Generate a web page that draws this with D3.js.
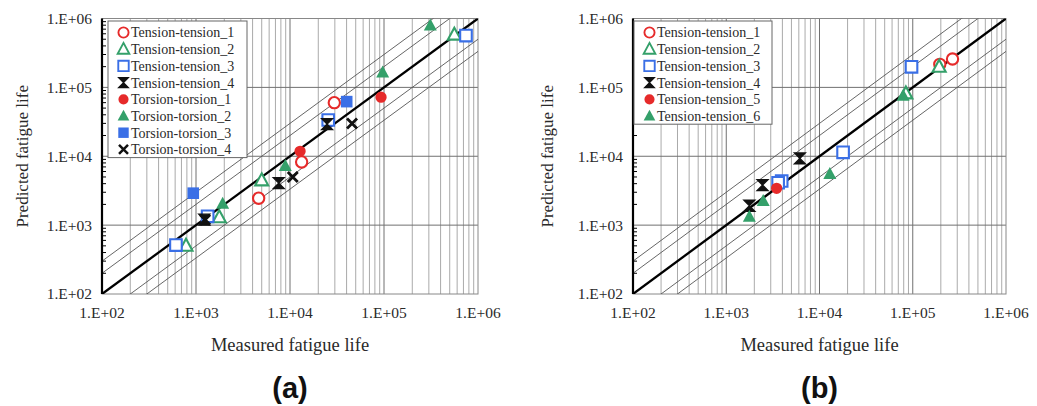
<!DOCTYPE html>
<html>
<head>
<meta charset="utf-8">
<script src="https://cdn.jsdelivr.net/npm/d3@7"></script>
<style>
  body { margin: 0; background: #fff; }
  svg text { font-family: "Liberation Serif", "Times New Roman", serif; fill: #2a2a2a; }
</style>
</head>
<body>
<div id="chart"></div>
<script>
// panel (a) series: [measured, predicted]
const namesA = ["Tension-tension_1", "Tension-tension_2", "Tension-tension_3", "Tension-tension_4",
                "Torsion-torsion_1", "Torsion-torsion_2", "Torsion-torsion_3", "Torsion-torsion_4"];
const aTT1 = [[29600, 60000], [13300, 8260], [4640, 2460]];
const aTT2 = [[783, 502], [1770, 1300], [5000, 4470], [560000, 583000]];
const aTT3 = [[612, 514], [1330, 1343], [25500, 33600], [745000, 565000]];
const aTT4 = [[1225, 1200], [7590, 4075], [24800, 29300]];
const aTo1 = [[12800, 11800], [93000, 72000]];
const aTo2 = [[1920, 2040], [8910, 7210], [96800, 164000], [311000, 790000]];
const aTo3 = [[935, 2910], [40100, 62100]];
const aTo4 = [[1250, 1200], [10700, 4990], [45700, 30000]];

// panel (b) series
const namesB = ["Tension-tension_1", "Tension-tension_2", "Tension-tension_3",
                "Tension-tension_4", "Tension-tension_5", "Tension-tension_6"];
const bTT1 = [[195000, 216000], [267000, 258000]];
const bTT2 = [[192000, 199000], [84400, 81800]];
const bTT3 = [[97000, 199000], [17900, 11400], [3930, 4370], [3600, 4120]];
const bTT4 = [[1770, 1910], [2450, 3820], [6160, 9310]];
const bTT5 = [[3470, 3420]];
const bTT6 = [[1770, 1325], [2490, 2240], [12900, 5520], [78900, 75500]];

const tickValues = [1e2, 1e3, 1e4, 1e5, 1e6];
const tickLabels = ["1.E+02", "1.E+03", "1.E+04", "1.E+05", "1.E+06"];
const factorLines = [2, 3];

const RED = "#e62a2a", GREEN = "#34a06a", BLUE = "#3a6fe6", BLACK = "#111";

const svg = d3.select("#chart").append("svg")
  .attr("width", 1037)
  .attr("height", 406);

const symbolPath = {
  circle: d3.symbol(d3.symbolCircle, 100)(),
  triangle: "M0,-7L6.5,5H-6.5Z",
  square: "M-5.8,-5.8H5.8V5.8H-5.8Z",
  hourglass: "M-5.5,-5.5H5.5L-5.5,5.5H5.5Z",
  cross: "M-5,-5L5,5M5,-5L-5,5"
};

function drawMarker(sel, style) {
  const p = sel.append("path").attr("d", symbolPath[style.shape]);
  if (style.shape === "cross") {
    p.attr("fill", "none").attr("stroke", style.color).attr("stroke-width", 2.8);
  } else if (style.shape === "hourglass") {
    p.attr("fill", style.color).attr("stroke", style.color).attr("stroke-width", 1.3);
  } else if (style.open) {
    p.attr("fill", "#fff").attr("stroke", style.color).attr("stroke-width", 2.1);
  } else {
    p.attr("fill", style.color);
  }
  return p;
}

function drawPanel(cfg) {
  const x = d3.scaleLog().domain([1e2, 1e6]).range([cfg.x0, cfg.x1]);
  const y = d3.scaleLog().domain([1e2, 1e6]).range([cfg.y1, cfg.y0]);
  const g = svg.append("g");

  const clipId = "clip-" + cfg.tag;
  svg.append("clipPath").attr("id", clipId)
    .append("rect")
    .attr("x", cfg.x0).attr("y", cfg.y0)
    .attr("width", cfg.x1 - cfg.x0).attr("height", cfg.y1 - cfg.y0);

  // minor vertical grid
  const minor = [];
  for (let d = 2; d < 6; d++) for (let k = 2; k < 10; k++) minor.push(k * Math.pow(10, d));
  g.selectAll(".vminor").data(minor).enter().append("line")
    .attr("x1", d => x(d)).attr("x2", d => x(d))
    .attr("y1", cfg.y0).attr("y2", cfg.y1)
    .attr("stroke", "#a0a0a0").attr("stroke-width", 0.9);

  // major grid
  const major = tickValues.slice(1, -1);
  g.selectAll(".vmajor").data(major).enter().append("line")
    .attr("x1", d => x(d)).attr("x2", d => x(d))
    .attr("y1", cfg.y0).attr("y2", cfg.y1)
    .attr("stroke", "#707070").attr("stroke-width", 1);
  g.selectAll(".hmajor").data(major).enter().append("line")
    .attr("x1", cfg.x0).attr("x2", cfg.x1)
    .attr("y1", d => y(d)).attr("y2", d => y(d))
    .attr("stroke", "#707070").attr("stroke-width", 1);

  // frame
  g.append("rect")
    .attr("x", cfg.x0).attr("y", cfg.y0)
    .attr("width", cfg.x1 - cfg.x0).attr("height", cfg.y1 - cfg.y0)
    .attr("fill", "none").attr("stroke", "#888").attr("stroke-width", 1);

  // factor lines
  const fl = g.append("g").attr("clip-path", `url(#${clipId})`);
  const factors = [];
  factorLines.forEach(f => { factors.push(f); factors.push(1 / f); });
  fl.selectAll(".factor").data(factors).enter().append("line")
    .attr("x1", x(1e2)).attr("y1", f => y(1e2 * f))
    .attr("x2", x(1e6)).attr("y2", f => y(1e6 * f))
    .attr("stroke", "#555").attr("stroke-width", 0.9);
  fl.append("line")
    .attr("x1", x(1e2)).attr("y1", y(1e2))
    .attr("x2", x(1e6)).attr("y2", y(1e6))
    .attr("stroke", "#000").attr("stroke-width", 2.3);

  // left axis with minor ticks
  g.append("line")
    .attr("x1", cfg.x0).attr("x2", cfg.x0)
    .attr("y1", cfg.y0).attr("y2", cfg.y1)
    .attr("stroke", "#000").attr("stroke-width", 2.2);
  g.selectAll(".ytick").data(minor).enter().append("line")
    .attr("x1", cfg.x0).attr("x2", cfg.x0 + 4)
    .attr("y1", d => y(d)).attr("y2", d => y(d))
    .attr("stroke", "#000").attr("stroke-width", 1);

  // tick labels
  g.selectAll(".ylab").data(tickValues).enter().append("text")
    .attr("x", cfg.x0 - 10).attr("y", d => y(d))
    .attr("dy", "0.35em").attr("text-anchor", "end")
    .style("font-size", "15.5px")
    .text((d, i) => tickLabels[i]);
  g.selectAll(".xlab").data(tickValues).enter().append("text")
    .attr("x", d => x(d)).attr("y", cfg.y1 + 19)
    .attr("dy", "0.35em").attr("text-anchor", "middle")
    .style("font-size", "15.5px")
    .text((d, i) => tickLabels[i]);

  // axis titles
  g.append("text")
    .attr("x", (cfg.x0 + cfg.x1) / 2).attr("y", cfg.y1 + 51)
    .attr("dy", "0.35em").attr("text-anchor", "middle")
    .style("font-size", "18.5px")
    .text("Measured fatigue life");
  g.append("text")
    .attr("transform", `translate(${cfg.titleX},${(cfg.y0 + cfg.y1) / 2}) rotate(-90)`)
    .attr("dy", "0.35em").attr("text-anchor", "middle")
    .style("font-size", "17px")
    .text("Predicted fatigue life");

  // panel letter
  g.append("text")
    .attr("x", (cfg.x0 + cfg.x1) / 2).attr("y", cfg.y1 + 94)
    .attr("dy", "0.35em").attr("text-anchor", "middle")
    .style("font-family", "'Liberation Sans', Arial, sans-serif")
    .style("font-weight", "bold").style("font-size", "29px").style("fill", "#111")
    .text(cfg.letter);

  // data points
  cfg.series.forEach((pts, i) => {
    const st = cfg.styles[i];
    pts.forEach(p => {
      drawMarker(g.append("g").attr("transform", `translate(${x(p[0])},${y(p[1])})`), st);
    });
  });

  // legend
  const lg = g.append("g").attr("transform", `translate(${cfg.legend.x},${cfg.legend.y})`);
  lg.append("rect")
    .attr("width", cfg.legend.w).attr("height", cfg.names.length * 16.7 + 3)
    .attr("fill", "#fff").attr("stroke", "#666").attr("stroke-width", 1);
  cfg.names.forEach((name, i) => {
    const row = lg.append("g").attr("transform", `translate(0,${11.5 + i * 16.7})`);
    drawMarker(row.append("g").attr("transform", "translate(15.5,0) scale(0.9)"), cfg.styles[i]);
    row.append("text").attr("x", 23).attr("dy", "0.35em")
      .style("font-size", "14px").text(name);
  });
}

const stylesA = [
  { shape: "circle", open: true, color: RED },
  { shape: "triangle", open: true, color: GREEN },
  { shape: "square", open: true, color: BLUE },
  { shape: "hourglass", color: BLACK },
  { shape: "circle", color: RED },
  { shape: "triangle", color: GREEN },
  { shape: "square", color: BLUE },
  { shape: "cross", color: BLACK }
];
const stylesB = [
  { shape: "circle", open: true, color: RED },
  { shape: "triangle", open: true, color: GREEN },
  { shape: "square", open: true, color: BLUE },
  { shape: "hourglass", color: BLACK },
  { shape: "circle", color: RED },
  { shape: "triangle", color: GREEN }
];

drawPanel({
  tag: "a", letter: "(a)", x0: 102, x1: 478, y0: 18.5, y1: 294, titleX: 22,
  series: [aTT1, aTT2, aTT3, aTT4, aTo1, aTo2, aTo3, aTo4],
  names: namesA, styles: stylesA,
  legend: { x: 108, y: 21, w: 139 }
});
drawPanel({
  tag: "b", letter: "(b)", x0: 633, x1: 1006, y0: 18.5, y1: 294, titleX: 547,
  series: [bTT1, bTT2, bTT3, bTT4, bTT5, bTT6],
  names: namesB, styles: stylesB,
  legend: { x: 634, y: 21, w: 138 }
});
</script>
</body>
</html>
